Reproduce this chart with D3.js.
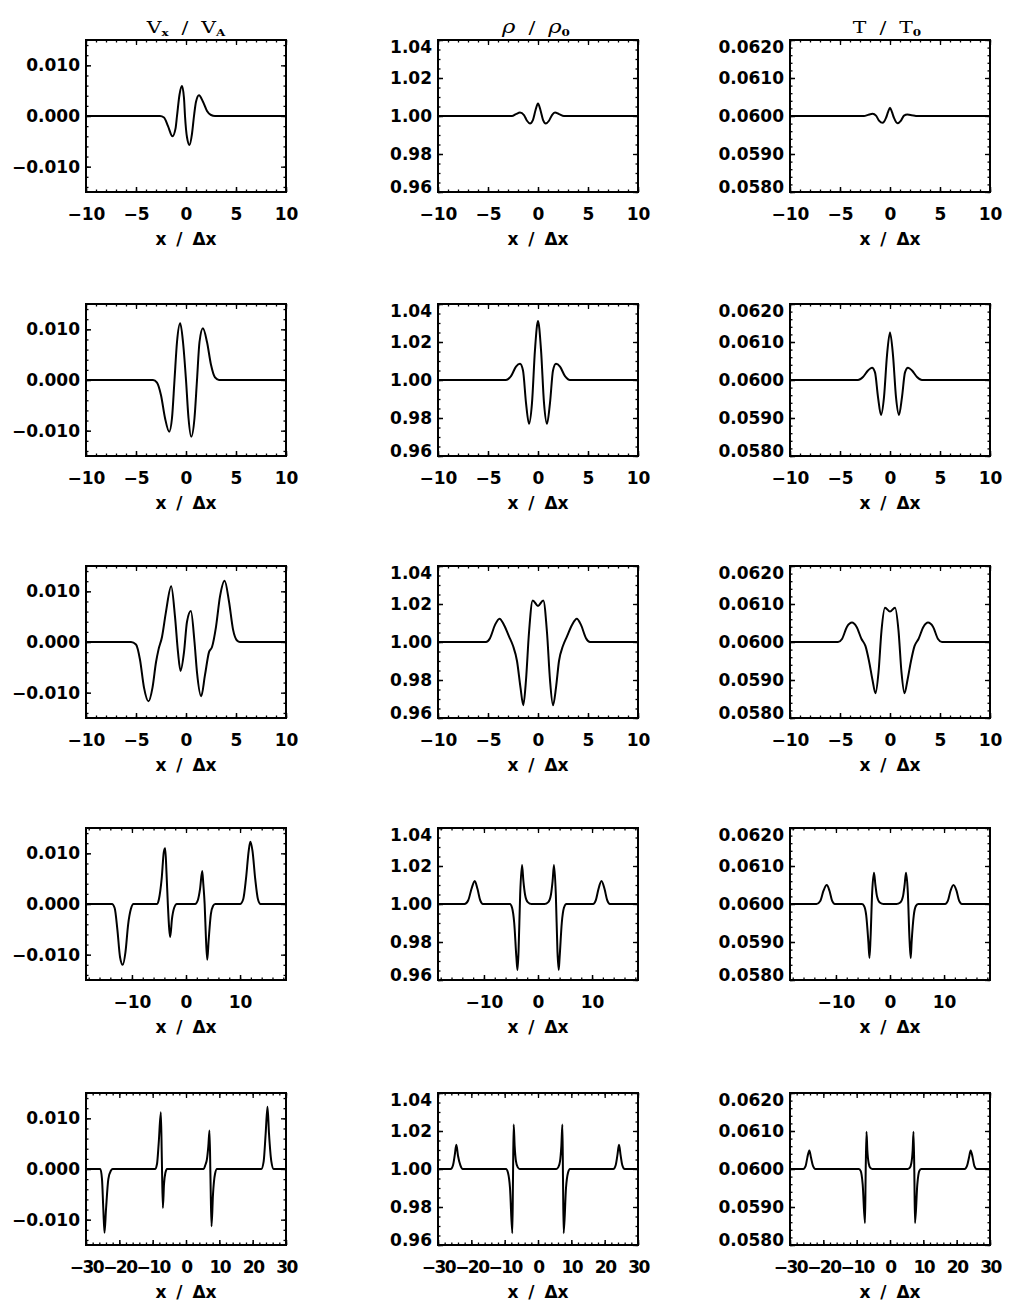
<!DOCTYPE html>
<html><head><meta charset="utf-8">
<script src="https://cdn.jsdelivr.net/npm/d3@7"></script>
<style>body{margin:0;background:#fff}</style>
</head><body><svg id="c" width="1014" height="1304"></svg>
<script>
// ---------- data: [x/Δx, value] ----------
const vx1=[[-10,0],[-2.6,0],[-2.2,-0.0003],[-1.8,-0.002],[-1.35,-0.004],[-1.05,-0.0025],[-0.9,0],[-0.65,0.0042],[-0.4,0.0059],[-0.2,0.0035],[-0.1,0],[0.1,-0.0042],[0.35,-0.0057],[0.6,-0.0035],[0.8,0],[1.0,0.0028],[1.3,0.0041],[1.7,0.0028],[2.1,0.001],[2.5,0.0002],[2.9,0],[10,0]];
const vx2=[[-10,0],[-3.3,0],[-2.9,-0.0005],[-2.5,-0.003],[-2.1,-0.0075],[-1.68,-0.0102],[-1.4,-0.0075],[-1.15,0],[-0.9,0.0075],[-0.58,0.0112],[-0.3,0.0075],[0,0],[0.25,-0.0075],[0.52,-0.0112],[0.85,-0.0075],[1.1,0],[1.35,0.0075],[1.69,0.0102],[2.1,0.0075],[2.5,0.003],[2.9,0.0005],[3.3,0],[10,0]];
const vx3=[[-10,0],[-5.5,0],[-5.0,-0.0005],[-4.6,-0.0035],[-4.2,-0.009],[-3.75,-0.0117],[-3.35,-0.009],[-3.0,-0.004],[-2.75,-0.0015],[-2.4,0.001],[-2.0,0.006],[-1.48,0.011],[-1.1,0.005],[-0.8,-0.002],[-0.55,-0.0057],[-0.2,-0.002],[0.1,0.004],[0.49,0.0061],[0.85,0.0],[1.1,-0.006],[1.52,-0.0107],[1.9,-0.0065],[2.3,-0.002],[2.6,-0.001],[3.0,0.003],[3.4,0.009],[3.86,0.0121],[4.3,0.008],[4.7,0.0025],[5.1,0.0003],[5.4,0],[10,0]];
const vx4=[[-18.5,0],[-13.7,0],[-13.2,-0.0008],[-12.7,-0.005],[-12.2,-0.0105],[-11.7,-0.012],[-11.2,-0.0095],[-10.7,-0.004],[-10.2,-0.001],[-9.7,0],[-5.4,0],[-5.0,0.001],[-4.5,0.005],[-4.1,0.0103],[-3.85,0.011],[-3.6,0.006],[-3.36,0],[-3.1,-0.005],[-2.92,-0.0065],[-2.6,-0.003],[-2.2,-0.0008],[-1.7,0],[1.7,0],[2.2,0.0008],[2.6,0.003],[3.0,0.0065],[3.2,0.004],[3.45,0],[3.7,-0.007],[3.93,-0.011],[4.2,-0.007],[4.6,-0.002],[5.0,-0.0004],[5.4,0],[10.0,0],[10.6,0.001],[11.1,0.005],[11.6,0.0105],[11.9,0.0123],[12.3,0.0105],[12.8,0.005],[13.3,0.001],[13.8,0],[18.5,0]];
const vx5=[[-30,0],[-25.7,0],[-25.2,-0.002],[-24.8,-0.008],[-24.45,-0.0126],[-24.0,-0.008],[-23.3,-0.002],[-22.5,-0.0003],[-22,0],[-9.3,0],[-8.7,0.001],[-8.2,0.005],[-7.54,0.0112],[-7.25,0.002],[-6.94,-0.0077],[-6.6,-0.003],[-6.2,-0.0008],[-5.7,0],[5.3,0],[5.8,0.0008],[6.3,0.002],[6.7,0.0045],[7.05,0.0076],[7.35,-0.002],[7.65,-0.0113],[8.1,-0.005],[8.7,-0.001],[9.3,0],[22.6,0],[23.3,0.0015],[23.9,0.007],[24.45,0.0123],[24.9,0.007],[25.6,0.0015],[26.3,0],[30,0]];

const rho1=[[-10,1],[-2.6,1],[-2.2,1.001],[-1.8,1.0018],[-1.4,1.0005],[-1.1,0.9975],[-0.8,0.9961],[-0.5,0.998],[-0.25,1.003],[0,1.0066],[0.25,1.003],[0.5,0.998],[0.78,0.9961],[1.1,0.9975],[1.4,1.0005],[1.7,1.0018],[2.1,1.001],[2.6,1],[10,1]];
const rho2=[[-10,1],[-3.2,1],[-2.7,1.002],[-2.2,1.007],[-1.8,1.0085],[-1.5,1.005],[-1.2,0.988],[-0.9,0.977],[-0.6,0.988],[-0.3,1.016],[0,1.031],[0.3,1.016],[0.6,0.988],[0.9,0.977],[1.2,0.988],[1.5,1.005],[1.8,1.0085],[2.2,1.007],[2.7,1.002],[3.2,1],[10,1]];
const rho3=[[-10,1],[-5.2,1],[-4.8,1.002],[-4.3,1.009],[-3.85,1.0123],[-3.4,1.009],[-2.9,1.003],[-2.5,0.998],[-2.1,0.99],[-1.75,0.976],[-1.47,0.9667],[-1.2,0.98],[-0.9,1.005],[-0.53,1.0219],[0,1.019],[0.53,1.0219],[0.9,1.005],[1.2,0.98],[1.5,0.9667],[1.8,0.976],[2.1,0.99],[2.5,0.998],[2.9,1.003],[3.4,1.009],[3.88,1.0123],[4.3,1.009],[4.8,1.002],[5.2,1],[10,1]];
const rho4=[[-18.5,1],[-13.6,1],[-12.9,1.002],[-12.3,1.008],[-11.7,1.0121],[-11.2,1.008],[-10.7,1.002],[-10.2,1],[-5.2,1],[-4.8,0.998],[-4.4,0.99],[-4.0,0.972],[-3.8,0.9653],[-3.6,0.975],[-3.3,1.005],[-2.96,1.0205],[-2.7,1.012],[-2.4,1.005],[-1.9,1.001],[-1.2,1],[1.2,1],[1.9,1.001],[2.4,1.005],[2.7,1.012],[2.96,1.0205],[3.3,1.005],[3.6,0.975],[3.83,0.9653],[4.0,0.972],[4.4,0.99],[4.8,0.998],[5.26,1],[10.2,1],[10.7,1.002],[11.2,1.008],[11.74,1.0121],[12.3,1.008],[12.8,1.002],[13.3,1],[18.5,1]];
const rho5=[[-30,1],[-26.2,1],[-25.5,1.002],[-25,1.007],[-24.5,1.0127],[-24,1.007],[-23.3,1.002],[-22.6,1],[-9.6,1],[-9.0,0.998],[-8.4,0.99],[-7.7,0.9662],[-7.5,0.995],[-7.3,1.0234],[-7.0,1.012],[-6.6,1.004],[-6.1,1.001],[-5.5,1],[5.5,1],[6.1,1.001],[6.6,1.004],[7.0,1.012],[7.32,1.0234],[7.5,0.995],[7.7,0.9662],[8.4,0.99],[9.0,0.998],[9.6,1],[22.6,1],[23.3,1.002],[23.8,1.007],[24.3,1.0127],[24.8,1.007],[25.3,1.002],[26,1],[30,1]];

const t1=[[-10,0.06],[-2.6,0.06],[-2.2,0.06003],[-1.74,0.06006],[-1.4,0.06001],[-1.1,0.05988],[-0.74,0.05982],[-0.4,0.05995],[-0.2,0.0601],[0,0.06022],[0.2,0.0601],[0.4,0.05995],[0.75,0.05981],[1.1,0.05988],[1.4,0.06001],[1.74,0.06004],[2.2,0.06002],[2.6,0.06],[10,0.06]];
const t2=[[-10,0.06],[-3.2,0.06],[-2.7,0.06008],[-2.2,0.06025],[-1.8,0.06032],[-1.5,0.0602],[-1.2,0.05955],[-0.9,0.05908],[-0.6,0.05955],[-0.3,0.06065],[0,0.06125],[0.3,0.06065],[0.6,0.05955],[0.9,0.05908],[1.2,0.05955],[1.5,0.0602],[1.8,0.06032],[2.2,0.06025],[2.7,0.06008],[3.2,0.06],[10,0.06]];
const t3=[[-10,0.06],[-5.2,0.06],[-4.8,0.06008],[-4.3,0.0604],[-3.8,0.06051],[-3.35,0.0604],[-2.85,0.06008],[-2.45,0.05989],[-2.1,0.0595],[-1.75,0.0590],[-1.45,0.05865],[-1.15,0.0592],[-0.85,0.0603],[-0.5,0.0609],[0,0.0608],[0.5,0.0609],[0.85,0.0603],[1.15,0.0592],[1.45,0.05865],[1.75,0.0590],[2.1,0.0595],[2.45,0.05989],[2.85,0.06008],[3.35,0.0604],[3.8,0.06051],[4.3,0.0604],[4.8,0.06008],[5.2,0.06],[10,0.06]];
const t4=[[-18.5,0.06],[-13.6,0.06],[-12.9,0.06008],[-12.3,0.06035],[-11.7,0.0605],[-11.2,0.06035],[-10.7,0.06008],[-10.2,0.06],[-5.2,0.06],[-4.8,0.05995],[-4.4,0.0597],[-4.0,0.0590],[-3.8,0.05858],[-3.6,0.0591],[-3.3,0.0603],[-2.96,0.06082],[-2.7,0.0605],[-2.4,0.0602],[-1.9,0.06004],[-1.2,0.06],[1.2,0.06],[1.9,0.06004],[2.4,0.0602],[2.7,0.0605],[2.96,0.06082],[3.3,0.0603],[3.6,0.0591],[3.83,0.05858],[4.0,0.0590],[4.4,0.0597],[4.8,0.05995],[5.26,0.06],[10.2,0.06],[10.7,0.06008],[11.2,0.06035],[11.74,0.0605],[12.3,0.06035],[12.8,0.06008],[13.3,0.06],[18.5,0.06]];
const t5=[[-30,0.06],[-26,0.06],[-25.3,0.06008],[-24.8,0.0603],[-24.2,0.06049],[-23.7,0.0603],[-23.1,0.06008],[-22.4,0.06],[-9.4,0.06],[-8.8,0.05995],[-8.2,0.0596],[-7.5,0.05858],[-7.3,0.0599],[-7.05,0.06098],[-6.8,0.0605],[-6.4,0.06015],[-5.9,0.06003],[-5.3,0.06],[5.3,0.06],[5.9,0.06003],[6.4,0.06015],[6.8,0.0605],[7.05,0.06098],[7.3,0.0599],[7.5,0.05858],[8.2,0.0596],[8.8,0.05995],[9.4,0.06],[22.4,0.06],[23.1,0.06008],[23.7,0.0603],[24.2,0.06049],[24.8,0.0603],[25.3,0.06008],[26,0.06],[30,0.06]];

const xHalf=[10,10,10,18.5,30];
const xTickVals=[[-10,-5,0,5,10],[-10,-5,0,5,10],[-10,-5,0,5,10],[-10,0,10],[-30,-20,-10,0,10,20,30]];
const xMinorStep=[1,1,1,2,2];
const yDomains=[[-0.015,0.015],[0.96,1.04],[0.058,0.062]];
const yTickVals=[[-0.01,0,0.01],[0.96,0.98,1.00,1.02,1.04],[0.058,0.059,0.060,0.061,0.062]];
const yTickFmt=[".3f",".2f",".4f"];
const yMinorStep=[0.002,0.005,0.0002];
const series=[[vx1,rho1,t1],[vx2,rho2,t2],[vx3,rho3,t3],[vx4,rho4,t4],[vx5,rho5,t5]];

// ---------- layout ----------
const colLeft=[86,438,790], boxW=200;
const rowTop=[40,304,566,828,1093], boxH=152;
const svg=d3.select("#c");
const LBL="'DejaVu Sans', sans-serif";
const minus=s=>s.replace(/-/g,"\u2212");

function styleText(sel){
  sel.selectAll("text").attr("font-family",LBL).attr("font-weight","bold")
     .attr("font-size",17).attr("fill","#000");
}

series.forEach((rowData,r)=>{
  rowData.forEach((data,c)=>{
    const g=svg.append("g").attr("transform",`translate(${colLeft[c]},${rowTop[r]})`);
    const x=d3.scaleLinear().domain([-xHalf[r],xHalf[r]]).range([0,boxW]);
    const y=d3.scaleLinear().domain(yDomains[c]).range([boxH,0]);
    const cid=`clip${r}${c}`;
    g.append("clipPath").attr("id",cid).append("rect").attr("width",boxW).attr("height",boxH);

    const xMinor=d3.range(-xHalf[r],xHalf[r]+1e-9,xMinorStep[r]).map(v=>Math.round(v/xMinorStep[r])*xMinorStep[r]).filter(v=>v>=-xHalf[r]&&v<=xHalf[r]);
    const yMinor=d3.range(Math.ceil(yDomains[c][0]/yMinorStep[c]-1e-6),Math.floor(yDomains[c][1]/yMinorStep[c]+1e-6)+1).map(k=>k*yMinorStep[c]);

    const axes=[
      [d3.axisBottom(x).tickValues(xMinor).tickSize(-2.5).tickFormat(()=>""),`translate(0,${boxH})`],
      [d3.axisTop(x).tickValues(xMinor).tickSize(-2.5).tickFormat(()=>""),null],
      [d3.axisTop(x).tickValues(xTickVals[r]).tickSize(-5).tickFormat(()=>""),null],
      [d3.axisLeft(y).tickValues(yMinor).tickSize(-2.5).tickFormat(()=>""),null],
      [d3.axisRight(y).tickValues(yMinor).tickSize(-2.5).tickFormat(()=>""),`translate(${boxW},0)`],
      [d3.axisRight(y).tickValues(yTickVals[c]).tickSize(-5).tickFormat(()=>""),`translate(${boxW},0)`]
    ];
    axes.forEach(([ax,tr])=>{
      const a=g.append("g").call(ax);
      if(tr) a.attr("transform",tr);
      a.select(".domain").remove();
      a.selectAll("line").attr("stroke","#000").attr("stroke-width",1.3);
    });

    // bottom major axis with labels
    const xa=g.append("g").attr("transform",`translate(0,${boxH})`)
      .call(d3.axisBottom(x).tickValues(xTickVals[r]).tickSize(-5).tickPadding(16).tickFormat(d=>minus(d3.format("d")(d))));
    xa.select(".domain").remove();
    xa.selectAll("line").attr("stroke","#000").attr("stroke-width",1.5);
    styleText(xa);
    if(r===4) xa.selectAll("text").attr("letter-spacing","-1.5px");

    // left major axis with labels
    const ya=g.append("g")
      .call(d3.axisLeft(y).tickValues(yTickVals[c]).tickSize(-5).tickPadding(6).tickFormat(d=>minus(d3.format(yTickFmt[c])(d))));
    ya.select(".domain").remove();
    ya.selectAll("line").attr("stroke","#000").attr("stroke-width",1.5);
    styleText(ya);
    if(c>0){
      const n=yTickVals[c].length;
      ya.selectAll(".tick text").attr("transform",(d,i)=>i===0?"translate(0,-5)":(i===n-1?"translate(0,7)":null));
    }

    // data line
    g.append("path").datum(data).attr("clip-path",`url(#${cid})`)
      .attr("fill","none").attr("stroke","#000").attr("stroke-width",2)
      .attr("stroke-linejoin","round")
      .attr("d",d3.line().x(d=>x(d[0])).y(d=>y(d[1])).curve(d3.curveMonotoneX));

    // frame
    g.append("rect").attr("width",boxW).attr("height",boxH)
      .attr("fill","none").attr("stroke","#000").attr("stroke-width",2);

    // x axis title
    g.append("text").attr("x",boxW/2).attr("y",boxH+53).attr("text-anchor","middle")
      .attr("font-family",LBL).attr("font-weight","bold").attr("font-size",17)
      .attr("word-spacing","4px").text("x / \u0394x");
  });
});

// column titles (wide Hershey-like look via horizontal stretch)
const TF="'DejaVu Serif', serif";
const titles=[
  [{t:"V"},{t:"x",sub:true},{t:"  /  "},{t:"V"},{t:"A",sub:true}],
  [{t:"\u03C1",it:true},{t:"  /  "},{t:"\u03C1",it:true},{t:"0",sub:true}],
  [{t:"T"},{t:"  /  "},{t:"T"},{t:"0",sub:true}]
];
const titleDx=[0,-2,-3];
titles.forEach((parts,c)=>{
  const tg=svg.append("g").attr("transform",`translate(${colLeft[c]+boxW/2+titleDx[c]},33) scale(1.2,1)`);
  const tx=tg.append("text").attr("x",0).attr("y",0)
    .attr("text-anchor","middle").attr("font-family",TF).attr("font-size",17)
    .attr("fill","#000").style("white-space","pre");
  let lastSub=false;
  parts.forEach(p=>{
    const ts=tx.append("tspan").text(p.t);
    if(p.sub){ ts.attr("font-size",10).attr("font-weight","bold").attr("dy",3); lastSub=true; }
    else if(lastSub){ ts.attr("dy",-3); lastSub=false; }
    if(p.it) ts.attr("font-style","italic").attr("font-size",19);
  });
});
</script></body></html>
